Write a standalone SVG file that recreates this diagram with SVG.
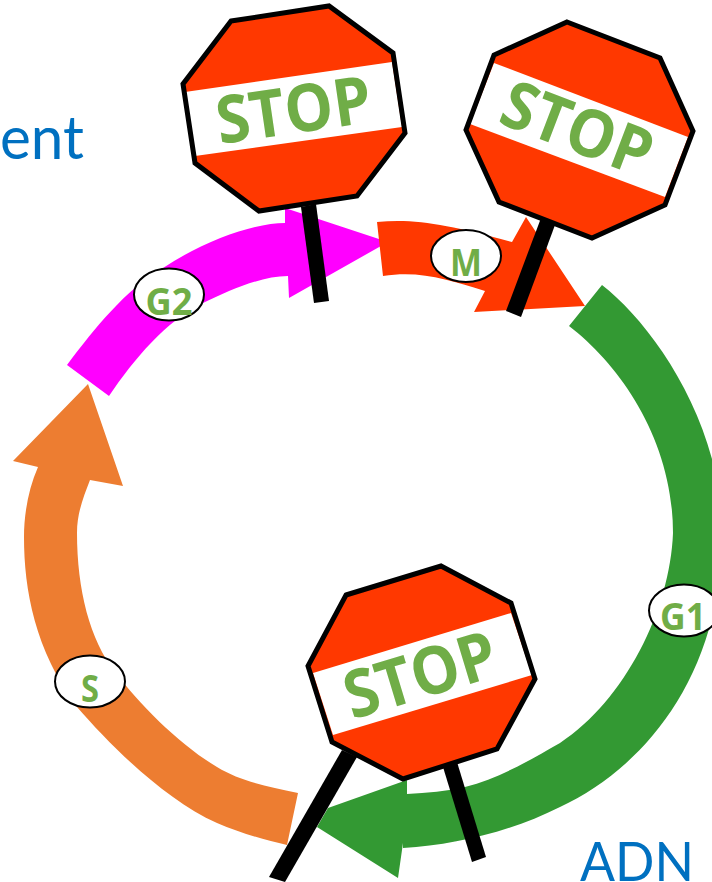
<svg xmlns="http://www.w3.org/2000/svg" width="712" height="882" viewBox="0 0 712 882">
<style>
.post{fill:#000}
.face{fill:#FF3800}
.band{fill:#fff}
.rim{fill:none;stroke:#000;stroke-width:5;stroke-linejoin:miter}
.stop{font-family:"Open Sans",Lato,sans-serif;font-weight:700;font-size:66px;fill:#70AD47;text-anchor:middle}
.bubble{fill:#fff;stroke:#000;stroke-width:2}
.phase{font-family:"Open Sans",Lato,sans-serif;font-weight:700;font-size:37px;fill:#70AD47;text-anchor:middle}
.note{font-family:Lato,"Open Sans",sans-serif;fill:#0070C0}
</style>
<rect width="712" height="882" fill="#fff"/>
<g id="connectors">
<path id="arrow-s" fill="#ED7D31" d="M298 793C265 786 240 781 217 767C180 745 140 705 115 672C90 640 77 590 77 533C77 512 84 496 90 480L123 486L88 384L13 461L38 467C28 490 24 515 24 537C24 590 35 650 77 707C110 745 165 800 217 823C240 833 265 840 287 845Z"/>
<path id="arrow-g2" fill="#FF00FF" d="M67 365C95 328 125 290 163 268C205 240 255 223 285 223L285 208L388 242L289 298L288 276C262 276 230 290 203 303C165 322 135 358 109 396Z"/>
<path id="arrow-m" fill="#FF3800" d="M377 222C415 218 450 225 512 242L526 217L585 306L474 312L485 291C450 280 420 270 383 276Z"/>
<path id="arrow-g1" fill="#339933" d="M602 285C650 322 722 420 722 533C722 680 640 770 560 807C510 832 455 845 403 848L403 843L398 878L317 827L328 808L407 780L407 794C427 793 447 791 465 787C500 778 530 760 560 743C625 700 670 610 673 533C673 440 620 365 569 326Z"/>
</g>
<g id="sign-top-left">
<polygon class="post" points="301,207 316,204 329,301 314,303"/>
<polygon class="face" points="231,21 329,6 393,53 405,133 357,196 259,211 195,163 183,84"/>
<polygon class="band" points="185,92 392,62 402,127 195,156"/>
<polygon class="rim" points="231,21 329,6 393,53 405,133 357,196 259,211 195,163 183,84"/>
<text class="stop" transform="translate(297 133) rotate(-8.3)" textLength="156" lengthAdjust="spacingAndGlyphs">STOP</text>
</g>
<g id="sign-top-right">
<polygon class="post" points="541,218 555,225 521,317 506,311"/>
<polygon class="face" points="567,22 660,58 693,131 665,205 592,238 499,202 466,130 494,55"/>
<polygon class="band" points="494,63 688,137 665,197 470,124"/>
<polygon class="rim" points="567,22 660,58 693,131 665,205 592,238 499,202 466,130 494,55"/>
<text class="stop" transform="translate(569 150) rotate(20.9)" textLength="156" lengthAdjust="spacingAndGlyphs">STOP</text>
</g>
<g id="sign-bottom">
<polygon class="post" points="342,750 357,757 285,882 269,877"/>
<polygon class="post" points="443,767 457,762 486,857 472,862"/>
<polygon class="face" points="346,595 441,566 511,603 535,679 497,749 403,779 332,742 308,666"/>
<polygon class="band" points="313,673 511,613 532,675 333,735"/>
<polygon class="rim" points="346,595 441,566 511,603 535,679 497,749 403,779 332,742 308,666"/>
<text class="stop" transform="translate(427 697) rotate(-16.9)" textLength="156" lengthAdjust="spacingAndGlyphs">STOP</text>
</g>
<g id="phase-g2"><ellipse class="bubble" cx="169" cy="294.500" rx="35" ry="26"/><text class="phase" x="169" y="315" textLength="47" lengthAdjust="spacingAndGlyphs">G2</text></g>
<g id="phase-m"><ellipse class="bubble" cx="466" cy="256" rx="35" ry="26"/><text class="phase" x="466" y="276" textLength="32" lengthAdjust="spacingAndGlyphs">M</text></g>
<g id="phase-g1"><ellipse class="bubble" cx="684" cy="610.500" rx="35" ry="26"/><text class="phase" x="683" y="630" textLength="46" lengthAdjust="spacingAndGlyphs">G1</text></g>
<g id="phase-s"><ellipse class="bubble" cx="90" cy="681.500" rx="35" ry="26"/><text class="phase" x="90" y="702" textLength="18" lengthAdjust="spacingAndGlyphs">S</text></g>
<text id="label-ent" class="note" x="0" y="159" font-size="60" textLength="84" lengthAdjust="spacingAndGlyphs">ent</text>
<text id="label-adn" class="note" x="580" y="881" font-size="55" textLength="114" lengthAdjust="spacingAndGlyphs">ADN</text>
</svg>
